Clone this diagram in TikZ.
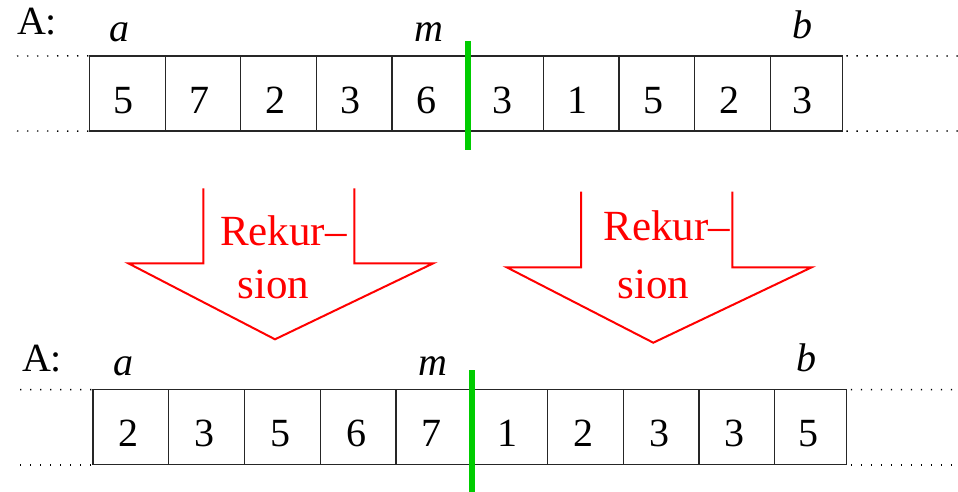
\documentclass[tikz,border=0pt]{standalone}
\usepackage{fontspec}
\setmainfont{Liberation Serif}
\definecolor{mygreen}{RGB}{0,204,0}
\begin{document}
\begin{tikzpicture}[x=0.5pt,y=-0.5pt,
  cell/.style={draw=black!85, line width=0.65pt, inner sep=0pt, outer sep=0pt, minimum height=37.6pt},
  num/.style={anchor=base, inner sep=0pt, font=\fontsize{20}{24}\selectfont},
  lab/.style={anchor=base, inner sep=0pt, font=\fontsize{20}{24}\selectfont\itshape},
  alab/.style={anchor=base west, inner sep=0pt, font=\fontsize{20}{24}\selectfont},
  dots/.style={draw=black, line width=0.7pt, dash pattern=on 0.7pt off 4.3pt},
  divider/.style={draw=mygreen, line width=3pt},
  bigarrow/.style={draw=red, line width=1pt, line join=miter},
  rtext/.style={anchor=base, inner sep=0pt, text=red, font=\fontsize{21.5}{26}\selectfont}
]
\useasboundingbox (0,0) rectangle (958,492);

% ---------- top array ----------
\foreach \v [count=\i] in {5,7,2,3,6,3,1,5,2,3} {
  \ifnum\i<10
    \pgfmathsetmacro\cx{89.5+(\i-0.5)*75.65}
    \node[cell, minimum width=37.825pt] (t\i) at (\cx,93.5) {};
  \else
    \node[cell, minimum width=36pt] (t\i) at (806.35,93.5) {};
  \fi
  \node[num] (tn\i) at ([xshift=-1.75pt]t\i.center |- 0,113) {\v};
}
% ---------- bottom array ----------
\foreach \v [count=\i] in {2,3,5,6,7,1,2,3,3,5} {
  \ifnum\i<10
    \pgfmathsetmacro\cx{93+(\i-0.5)*75.75}
    \node[cell, minimum width=37.875pt] (u\i) at (\cx,427.2) {};
  \else
    \node[cell, minimum width=36pt] (u\i) at (810.75,427.2) {};
  \fi
  \node[num] (un\i) at ([xshift=-1pt]u\i.center |- 0,446) {\v};
}

% ---------- dotted continuations ----------
\coordinate (tl1) at (17,56.0);
\coordinate (tl2) at (17,131.0);
\coordinate (tr1) at (958,56.0);
\coordinate (tr2) at (958,131.0);
\draw[dots] (tl1) -- (t1.north west);
\draw[dots] (tl2) -- (t1.south west);
\draw[dots] ([xshift=2pt]t10.north east) -- (tr1);
\draw[dots] ([xshift=2pt]t10.south east) -- (tr2);
\coordinate (bl1) at (20,389.6);
\coordinate (bl2) at (20,464.8);
\coordinate (br1) at (958,389.6);
\coordinate (br2) at (958,464.8);
\draw[dots] (bl1) -- (u1.north west);
\draw[dots] (bl2) -- (u1.south west);
\draw[dots] ([xshift=2pt]u10.north east) -- (br1);
\draw[dots] ([xshift=2pt]u10.south east) -- (br2);

% ---------- green dividers ----------
\coordinate (g1a) at (467.75,41);
\coordinate (g1b) at (467.75,150);
\draw[divider] (g1a) -- (g1b);
\coordinate (g2a) at (471.75,370);
\coordinate (g2b) at (471.75,492);
\draw[divider] (g2a) -- (g2b);

% ---------- labels ----------
\node[alab] (A1) at (16.7,35) {A:};
\node[lab] (a1) at (119,41.7) {a};
\node[lab] (m1) at (429,41.7) {m};
\node[lab] (b1) at (802.5,38.3) {b};
\node[alab] (A2) at (21.7,371.7) {A:};
\node[lab] (a2) at (123,375) {a};
\node[lab] (m2) at (433,375) {m};
\node[lab] (b2) at (806.7,371.7) {b};

% ---------- recursion arrows ----------
\draw[bigarrow] (203.3,188.3) -- (203.3,263.3) -- (128.3,263.3) -- (275,339.3)
  -- (433.3,263.3) -- (354.3,263.3) -- (354.3,188.3);
\node[rtext] (r1a) at (283.3,245) {Rekur--};
\node[rtext] (r1b) at (273.3,298.3) {sion};

\draw[bigarrow] (581,191.7) -- (581,267.3) -- (506.7,267.3) -- (653.3,342.7)
  -- (811.7,267.3) -- (732.3,267.3) -- (732.3,191.7);
\node[rtext] (r2a) at (666.7,240) {Rekur--};
\node[rtext] (r2b) at (653.3,298.3) {sion};
\end{tikzpicture}
\end{document}
